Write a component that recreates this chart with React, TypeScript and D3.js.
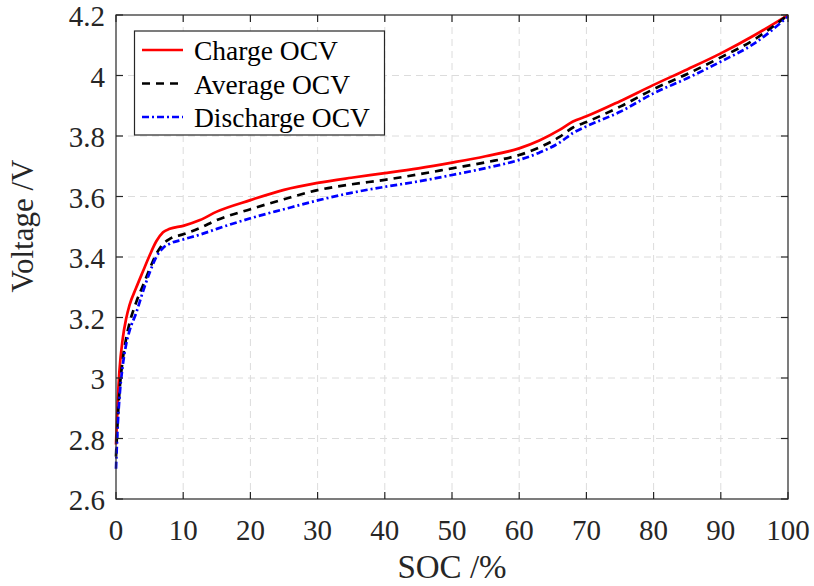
import React from "react";
import * as d3 from "d3";

const socGrid = [0, 0.25, 0.5, 1, 1.5, 2, 3, 4, 5, 6, 7, 8, 10, 12.5, 15, 20, 25, 30, 35, 40, 45, 50, 55, 60, 63, 66, 68, 70, 75, 80, 85, 90, 95, 100];

const chargeOCV = [2.78, 2.92, 3.02, 3.13, 3.195, 3.24, 3.298, 3.352, 3.405, 3.452, 3.482, 3.493, 3.503, 3.522, 3.55, 3.588, 3.622, 3.645, 3.662, 3.677, 3.693, 3.712, 3.733, 3.759, 3.785, 3.82, 3.848, 3.865, 3.915, 3.969, 4.02, 4.073, 4.133, 4.2];

const averageOCV = [2.74, 2.86, 2.95, 3.06, 3.13, 3.18, 3.25, 3.305, 3.36, 3.41, 3.443, 3.46, 3.475, 3.496, 3.522, 3.558, 3.591, 3.621, 3.64, 3.655, 3.673, 3.693, 3.713, 3.737, 3.762, 3.797, 3.828, 3.846, 3.897, 3.955, 4.005, 4.06, 4.119, 4.2];

const dischargeOCV = [2.7, 2.84, 2.93, 3.04, 3.11, 3.155, 3.215, 3.285, 3.348, 3.4, 3.43, 3.444, 3.458, 3.474, 3.493, 3.528, 3.558, 3.587, 3.612, 3.632, 3.65, 3.671, 3.694, 3.721, 3.745, 3.778, 3.81, 3.832, 3.88, 3.941, 3.991, 4.046, 4.106, 4.195];

const xTicks = [0, 10, 20, 30, 40, 50, 60, 70, 80, 90, 100];
const yTicks = [2.6, 2.8, 3, 3.2, 3.4, 3.6, 3.8, 4, 4.2];

const seriesNames = ["Charge OCV", "Average OCV", "Discharge OCV"];
const seriesValues = [chargeOCV, averageOCV, dischargeOCV];
const seriesColors = ["#ff0000", "#000000", "#0000ff"];
const seriesDash = ["none", "8,6", "7,3,2,3"];

const W = 814;
const H = 586;
const L = 116;
const R = 788;
const T = 15;
const B = 499;
const FONT = '"Liberation Serif", "Times New Roman", Times, serif';
const AXIS = "#262626";

export default function App() {
  const x = d3.scaleLinear().domain([0, 100]).range([L, R]);
  const y = d3.scaleLinear().domain([2.6, 4.2]).range([B, T]);
  const line = d3
    .line<[number, number]>()
    .x((d) => x(d[0]))
    .y((d) => y(d[1]))
    .curve(d3.curveMonotoneX);

  const tickLen = 7;
  const fontStyle = { fontFamily: FONT };

  return (
    <svg
      width={W}
      height={H}
      viewBox={`0 0 ${W} ${H}`}
      style={{ position: "absolute", left: 0, top: 0, background: "#fff" }}
    >
      <rect x={0} y={0} width={W} height={H} fill="#fff" />
      {/* grid */}
      <g stroke="#dcdcdc" strokeWidth={1} strokeDasharray="7,5">
        {xTicks.slice(1, -1).map((t) => (
          <line key={"gx" + t} x1={x(t)} x2={x(t)} y1={T} y2={B} />
        ))}
        {yTicks.slice(1, -1).map((t) => (
          <line key={"gy" + t} x1={L} x2={R} y1={y(t)} y2={y(t)} />
        ))}
      </g>
      {/* series */}
      {seriesValues.map((vals, i) => (
        <path
          key={seriesNames[i]}
          d={line(socGrid.map((s, j) => [s, vals[j]] as [number, number])) || ""}
          fill="none"
          stroke={seriesColors[i]}
          strokeWidth={2.7}
          strokeDasharray={seriesDash[i]}
        />
      ))}
      {/* axes box and ticks */}
      <g stroke={AXIS} strokeWidth={1.2}>
        <rect x={L} y={T} width={R - L} height={B - T} fill="none" />
        {xTicks.map((t) => (
          <g key={"tx" + t}>
            <line x1={x(t)} x2={x(t)} y1={B} y2={B - tickLen} />
            <line x1={x(t)} x2={x(t)} y1={T} y2={T + tickLen} />
          </g>
        ))}
        {yTicks.map((t) => (
          <g key={"ty" + t}>
            <line x1={L} x2={L + tickLen} y1={y(t)} y2={y(t)} />
            <line x1={R} x2={R - tickLen} y1={y(t)} y2={y(t)} />
          </g>
        ))}
      </g>
      {/* tick labels */}
      <g style={{ ...fontStyle, fontSize: "29px" }} fill={AXIS}>
        {xTicks.map((t) => (
          <text key={"lx" + t} x={x(t)} y={540} textAnchor="middle">
            {String(t)}
          </text>
        ))}
        {yTicks.map((t) => (
          <text key={"ly" + t} x={105} y={y(t) + 11} textAnchor="end">
            {String(t)}
          </text>
        ))}
      </g>
      {/* axis labels */}
      <text
        x={452}
        y={578}
        textAnchor="middle"
        style={{ ...fontStyle, fontSize: "33px" }}
        fill={AXIS}
      >
        SOC /%
      </text>
      <text
        transform={`translate(33, 226) rotate(-90)`}
        textAnchor="middle"
        style={{ ...fontStyle, fontSize: "31px" }}
        fill={AXIS}
      >
        Voltage /V
      </text>
      {/* legend */}
      <g>
        <rect x={134.5} y={31} width={250} height={104} fill="#fff" stroke={AXIS} strokeWidth={1.2} />
        {seriesNames.map((name, i) => {
          const ry = 50 + i * 33.5;
          return (
            <g key={"lg" + name}>
              <line
                x1={142}
                x2={183}
                y1={ry}
                y2={ry}
                stroke={seriesColors[i]}
                strokeWidth={2.7}
                strokeDasharray={seriesDash[i]}
              />
              <text x={194} y={ry + 10} style={{ ...fontStyle, fontSize: "27.5px" }} fill="#000">
                {name}
              </text>
            </g>
          );
        })}
      </g>
    </svg>
  );
}
